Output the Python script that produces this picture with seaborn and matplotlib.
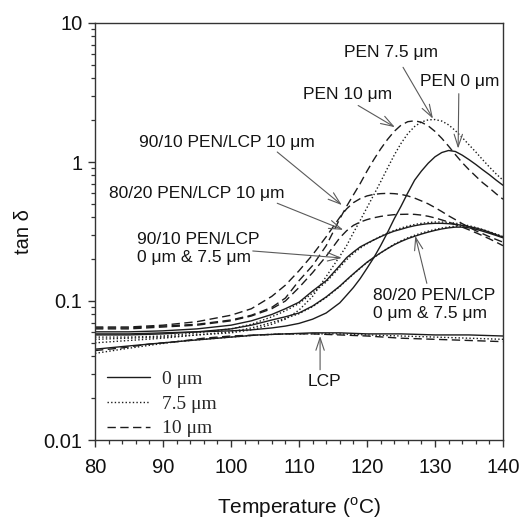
import matplotlib
matplotlib.use("Agg")
import matplotlib.pyplot as plt
import seaborn as sns
import pandas as pd
from matplotlib.lines import Line2D
from matplotlib.font_manager import FontProperties
from matplotlib.ticker import FixedLocator, FixedFormatter, MultipleLocator, LogLocator, NullFormatter

# ---------------- data ----------------
T_base = [80, 85, 90, 95, 100, 103, 106, 108, 110, 112, 114, 116, 117, 118, 119, 120,
          121, 122, 123, 124, 125, 126, 127, 128, 129, 130, 131, 132, 133, 134, 135,
          136, 137, 138, 139, 140]

pen_0 = [0.058, 0.058, 0.059, 0.060, 0.061, 0.062, 0.064, 0.066, 0.069, 0.074, 0.082, 0.097,
         0.110, 0.125, 0.145, 0.172, 0.205, 0.250, 0.310, 0.390, 0.480, 0.600, 0.740, 0.860,
         0.980, 1.090, 1.170, 1.210, 1.190, 1.120, 1.040, 0.960, 0.880, 0.810, 0.740, 0.680]
pen_75 = [0.053, 0.054, 0.055, 0.057, 0.059, 0.062, 0.068, 0.074, 0.086, 0.108, 0.150, 0.210,
          0.250, 0.310, 0.380, 0.470, 0.580, 0.720, 0.900, 1.120, 1.360, 1.600, 1.800, 1.940,
          2.010, 2.020, 1.970, 1.850, 1.680, 1.500, 1.330, 1.180, 1.040, 0.920, 0.820, 0.740]
pen_10 = [0.064, 0.064, 0.066, 0.068, 0.073, 0.079, 0.090, 0.105, 0.140, 0.180, 0.250, 0.390,
          0.480, 0.580, 0.700, 0.860, 1.040, 1.240, 1.450, 1.660, 1.840, 1.950, 1.980, 1.930,
          1.820, 1.660, 1.480, 1.300, 1.130, 0.990, 0.880, 0.790, 0.710, 0.650, 0.590, 0.540]
b9010_0 = [0.060, 0.060, 0.061, 0.063, 0.067, 0.072, 0.080, 0.088, 0.098, 0.118, 0.140, 0.180,
           0.205, 0.225, 0.245, 0.260, 0.275, 0.290, 0.305, 0.318, 0.328, 0.339, 0.348, 0.355,
           0.360, 0.362, 0.362, 0.360, 0.356, 0.350, 0.343, 0.335, 0.325, 0.313, 0.300, 0.288]
b9010_75 = [0.055, 0.055, 0.056, 0.059, 0.063, 0.068, 0.077, 0.085, 0.096, 0.114, 0.137, 0.175,
            0.198, 0.220, 0.240, 0.258, 0.275, 0.292, 0.308, 0.322, 0.335, 0.346, 0.355, 0.362,
            0.367, 0.370, 0.370, 0.368, 0.363, 0.356, 0.348, 0.338, 0.327, 0.315, 0.302, 0.290]
b9010_10 = [0.065, 0.065, 0.067, 0.071, 0.079, 0.088, 0.108, 0.130, 0.165, 0.215, 0.290, 0.400,
            0.460, 0.510, 0.545, 0.570, 0.585, 0.592, 0.595, 0.592, 0.585, 0.570, 0.550, 0.525,
            0.500, 0.470, 0.440, 0.410, 0.385, 0.360, 0.340, 0.320, 0.305, 0.290, 0.277, 0.265]
b8020_0 = [0.057, 0.057, 0.058, 0.060, 0.063, 0.067, 0.073, 0.077, 0.082, 0.092, 0.107, 0.128,
           0.142, 0.157, 0.173, 0.190, 0.206, 0.222, 0.238, 0.254, 0.268, 0.281, 0.292, 0.303,
           0.313, 0.322, 0.330, 0.336, 0.340, 0.340, 0.336, 0.328, 0.318, 0.307, 0.296, 0.285]
b8020_75 = [0.050, 0.052, 0.054, 0.057, 0.060, 0.064, 0.070, 0.075, 0.081, 0.091, 0.106, 0.127,
            0.141, 0.156, 0.172, 0.189, 0.205, 0.222, 0.239, 0.256, 0.271, 0.285, 0.297, 0.308,
            0.318, 0.327, 0.335, 0.341, 0.345, 0.345, 0.341, 0.334, 0.324, 0.313, 0.302, 0.290]
b8020_10 = [0.063, 0.063, 0.065, 0.067, 0.072, 0.078, 0.088, 0.100, 0.125, 0.160, 0.210, 0.285,
            0.320, 0.350, 0.370, 0.385, 0.397, 0.406, 0.413, 0.418, 0.420, 0.421, 0.420, 0.415,
            0.407, 0.396, 0.383, 0.370, 0.355, 0.340, 0.325, 0.310, 0.295, 0.280, 0.265, 0.250]

T_lcp = [80, 84, 88, 92, 96, 100, 104, 108, 112, 116, 120, 125, 130, 135, 140]
lcp_0 = [0.045, 0.047, 0.049, 0.051, 0.053, 0.055, 0.057, 0.058, 0.059, 0.059, 0.058, 0.058,
         0.057, 0.057, 0.056]
lcp_75 = [0.042, 0.045, 0.048, 0.051, 0.053, 0.055, 0.057, 0.058, 0.058, 0.058, 0.057, 0.056,
          0.055, 0.054, 0.053]
lcp_10 = [0.044, 0.046, 0.049, 0.051, 0.054, 0.056, 0.057, 0.058, 0.058, 0.057, 0.056, 0.054,
          0.053, 0.052, 0.051]

thickness_labels = ["0 \u03bcm", "7.5 \u03bcm", "10 \u03bcm"]

series = [
    ("PEN", thickness_labels[0], T_base, pen_0),
    ("PEN", thickness_labels[1], T_base, pen_75),
    ("PEN", thickness_labels[2], T_base, pen_10),
    ("90/10", thickness_labels[0], T_base, b9010_0),
    ("90/10", thickness_labels[1], T_base, b9010_75),
    ("90/10", thickness_labels[2], T_base, b9010_10),
    ("80/20", thickness_labels[0], T_base, b8020_0),
    ("80/20", thickness_labels[1], T_base, b8020_75),
    ("80/20", thickness_labels[2], T_base, b8020_10),
    ("LCP", thickness_labels[0], T_lcp, lcp_0),
    ("LCP", thickness_labels[1], T_lcp, lcp_75),
    ("LCP", thickness_labels[2], T_lcp, lcp_10),
]

rows = []
for mat, th, ts, vs in series:
    for t, v in zip(ts, vs):
        rows.append({"T": t, "tan_d": v, "material": mat, "thickness": th})
df = pd.DataFrame(rows)

# ---------------- style ----------------
sns.set_theme(style="ticks")
plt.rcParams["font.family"] = ["Liberation Sans", "DejaVu Sans"]
plt.rcParams["mathtext.fontset"] = "custom"
plt.rcParams["mathtext.rm"] = "Liberation Sans"

LINE = "#1c1c1c"
ARROW = "#5a5a5a"
SPINE = "#333333"
DASHES = {thickness_labels[0]: "", thickness_labels[1]: (1, 1.6), thickness_labels[2]: (6, 3.2)}

fig = plt.figure(figsize=(5.29, 5.20), dpi=100)
ax = fig.add_axes([95 / 529, 80 / 520, 408 / 529, 417 / 520])

sns.lineplot(data=df, x="T", y="tan_d", style="thickness", units="material",
             estimator=None, sort=False, color=LINE, linewidth=1.0,
             dashes=DASHES, style_order=thickness_labels, legend=False, ax=ax)

ax.set_yscale("log")
ax.set_xlim(80, 140)
ax.set_ylim(0.01, 10)

ax.xaxis.set_major_locator(MultipleLocator(10))
ax.xaxis.set_minor_locator(MultipleLocator(2))
ax.yaxis.set_major_locator(FixedLocator([0.01, 0.1, 1, 10]))
ax.yaxis.set_major_formatter(FixedFormatter(["0.01", "0.1", "1", "10"]))
ax.yaxis.set_minor_locator(LogLocator(base=10, subs=range(2, 10)))
ax.yaxis.set_minor_formatter(NullFormatter())

ax.tick_params(axis="both", which="major", direction="out", length=5, width=1.0,
               color=SPINE, labelsize=14.5, labelcolor="#111111")
ax.tick_params(axis="both", which="minor", direction="out", length=3, width=0.9, color=SPINE)
ax.tick_params(axis="x", which="major", pad=8)
ax.tick_params(axis="y", which="major", pad=4)
for s in ax.spines.values():
    s.set_visible(True)
    s.set_color(SPINE)
    s.set_linewidth(1.0)

ax.set_xlabel("Temperature ($^{\\mathrm{o}}$C)", fontsize=15, color="#111111")
ax.set_ylabel("tan \u03b4", fontsize=14.5, color="#111111")
ax.xaxis.set_label_coords(0.5, -0.133)
ax.yaxis.set_label_coords(-0.152, 0.5)

# ---------------- annotations ----------------
ann_fs = 12.5
arrow_kw = dict(arrowstyle="->,head_length=0.9,head_width=0.3", color=ARROW, lw=0.8,
                shrinkA=0, shrinkB=0, mutation_scale=10)

labels_txt = [
    ("PEN 7.5 \u03bcm", (123.5, 6.1), "center", (125.3, 4.8), (129.7, 2.05)),
    ("PEN 0 \u03bcm", (133.7, 3.8), "center", (133.5, 3.1), (133.4, 1.25)),
    ("PEN 10 \u03bcm", (117.2, 3.05), "center", (118.7, 2.55), (124.1, 1.78)),
    ("90/10 PEN/LCP 10 \u03bcm", (99.4, 1.37), "center", (106.8, 1.18), (116.3, 0.49)),
    ("80/20 PEN/LCP 10 \u03bcm", (95.0, 0.59), "center", (106.8, 0.505), (116.5, 0.325)),
    ("90/10 PEN/LCP\n0 \u03bcm & 7.5 \u03bcm", (86.2, 0.237), "left", (103.2, 0.229), (116.3, 0.204)),
    ("80/20 PEN/LCP\n0 \u03bcm & 7.5 \u03bcm", (120.9, 0.0944), "left", (128.8, 0.134), (127.1, 0.294)),
    ("LCP", (113.8, 0.0262), "center", (113.1, 0.032), (113.1, 0.056)),
]
for txt, pos, ha, tail, tip in labels_txt:
    ax.text(pos[0], pos[1], txt, ha=ha, va="center", fontsize=ann_fs, color="#141414",
            linespacing=1.25)
    ax.annotate("", xy=tip, xytext=tail, arrowprops=arrow_kw)

# ---------------- legend ----------------
handles = []
for k in thickness_labels:
    d = DASHES[k]
    if d == "":
        handles.append(Line2D([], [], color=LINE, lw=1.0, linestyle="-"))
    else:
        handles.append(Line2D([], [], color=LINE, lw=1.0, linestyle=(0, d)))
ax.legend(handles, thickness_labels, loc="lower left", bbox_to_anchor=(0.029, 0.006),
          frameon=False, prop=FontProperties(family="Liberation Serif", size=14),
          handlelength=2.2, handletextpad=0.62, labelspacing=0.36, borderaxespad=0,
          borderpad=0)

fig.savefig("out.png", dpi=100)
